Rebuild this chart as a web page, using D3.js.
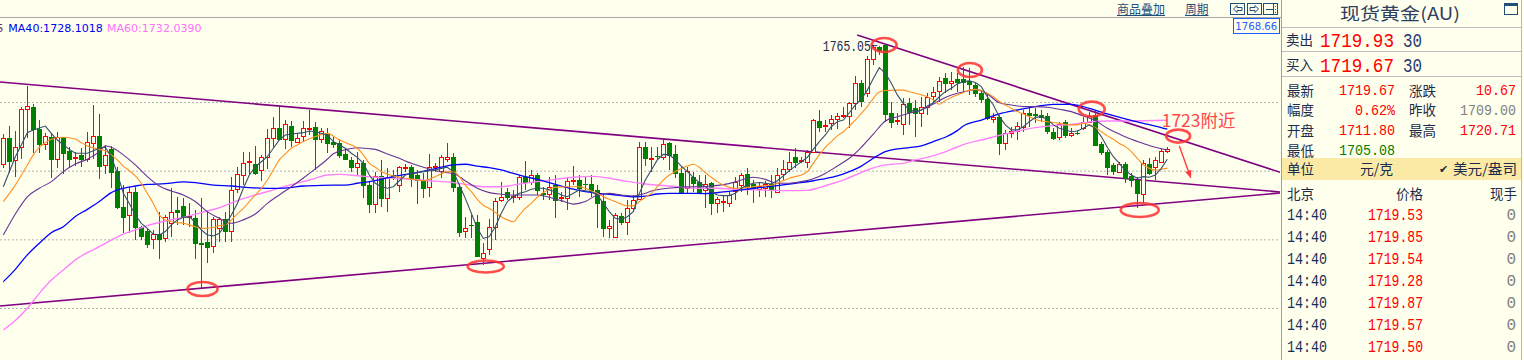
<!DOCTYPE html>
<html><head><meta charset="utf-8">
<script src="https://cdn.jsdelivr.net/npm/d3@7"></script>
<style>
html,body{margin:0;padding:0;background:#FFFFEE;overflow:hidden;}
svg{display:block;}
</style></head><body>
<svg id="c" width="1524" height="360"></svg>
<script>
// ---------------- DATA ----------------
const openP = [1712.9,1724.1,1714.7,1720.2,1736.8,1737.7,1728.2,1721.5,1724.6,1715.2,1724.6,1718.7,1715.7,1716.9,1715.2,1722.2,1725.2,1712.3,1719.3,1709.9,
1694.3,1690.8,1700.7,1685.5,1683.5,1680.0,1682.3,1680.4,1687.3,1692.8,1694.6,1689.6,1689.5,1678.3,1678.7,1677.1,1684.8,1688.7,1683.8,1701.9,
1708.1,1713.8,1712.8,1710.3,1716.1,1724.4,1728.5,1723.7,1729.5,1722.7,1725.2,1728.4,1729.1,1724.0,1726.0,1722.7,1721.9,1717.3,1714.7,1711.5,
1713.2,1703.7,1695.3,1707.7,1697.9,1708.1,1703.7,1711.3,1711.5,1708.1,1705.9,1703.0,1711.6,1709.9,1715.0,1715.8,1703.0,1683.8,1686.3,1687.6,
1671.7,1675.6,1685.5,1697.2,1700.5,1698.6,1698.6,1707.4,1705.2,1708.1,1700.1,1699.7,1703.6,1698.1,1697.9,1705.5,1705.9,1704.2,1704.2,1701.6,
1696.8,1684.8,1681.2,1690.2,1687.7,1693.5,1697.5,1720.2,1715.2,1716.6,1715.8,1721.9,1717.1,1709.1,1702.3,1707.4,1705.1,1701.6,1704.5,1696.0,
1696.3,1696.0,1701.1,1703.6,1708.4,1704.2,1701.9,1702.6,1704.2,1700.7,1708.4,1710.9,1715.8,1714.5,1713.9,1718.3,1731.6,1729.5,1730.7,1732.4,
1734.2,1733.9,1739.4,1748.2,1744.1,1758.6,1764.2,1764.9,1735.1,1731.7,1730.2,1739.7,1737.2,1735.1,1738.0,1742.6,1745.0,1750.3,1748.2,1750.1,
1750.1,1749.2,1747.4,1744.1,1741.2,1732.4,1733.3,1722.2,1726.3,1727.3,1728.9,1735.1,1734.6,1734.3,1733.9,1727.0,1724.9,1731.1,1725.4,1726.6,
1728.5,1731.4,1734.3,1721.7,1718.3,1712.5,1709.6,1712.9,1707.7,1705.9,1699.7,1712.9,1711.8,1713.9,1718.6];
const highP = [1726.0,1729.5,1727.5,1738.0,1747.0,1739.1,1732.1,1726.3,1726.6,1727.0,1724.9,1720.5,1718.3,1719.8,1727.0,1738.7,1734.8,1721.1,1720.8,1711.8,
1703.7,1703.0,1703.0,1686.0,1684.8,1684.1,1692.1,1690.6,1702.3,1698.6,1697.9,1695.7,1692.8,1697.9,1692.1,1689.9,1689.9,1692.1,1707.4,1711.8,
1718.3,1718.3,1720.8,1716.9,1728.1,1733.6,1738.7,1732.1,1731.7,1726.6,1731.7,1736.5,1731.4,1728.5,1728.5,1724.9,1723.7,1719.3,1716.1,1718.3,
1714.7,1705.2,1709.6,1714.7,1711.0,1710.3,1712.0,1712.9,1712.5,1710.3,1708.8,1717.1,1713.2,1716.9,1721.9,1717.6,1704.5,1689.9,1690.6,1690.6,
1678.3,1688.7,1697.9,1705.2,1702.3,1701.6,1708.1,1714.4,1710.3,1708.8,1703.0,1707.4,1708.1,1700.8,1707.4,1712.0,1708.1,1707.4,1708.1,1703.7,
1700.1,1688.5,1691.4,1691.4,1697.2,1699.4,1722.7,1722.7,1720.5,1720.2,1723.4,1722.7,1721.2,1712.0,1711.8,1709.6,1708.1,1708.1,1705.2,1698.6,
1699.4,1700.8,1707.4,1708.8,1711.0,1705.9,1705.2,1705.6,1708.1,1711.0,1714.7,1718.3,1719.8,1716.1,1719.0,1732.4,1736.5,1732.1,1734.3,1735.3,
1738.0,1740.2,1751.4,1749.6,1760.1,1764.8,1764.6,1765.05,1740.2,1735.1,1741.6,1741.6,1740.9,1742.3,1743.8,1746.7,1750.8,1752.5,1753.3,1752.5,
1755.3,1754.7,1748.2,1745.2,1743.8,1735.1,1734.3,1727.8,1729.2,1731.4,1736.5,1738.0,1737.2,1736.5,1735.1,1728.5,1731.4,1732.1,1728.5,1727.8,
1733.6,1735.8,1736.5,1722.7,1719.0,1713.2,1713.9,1713.9,1708.8,1707.4,1714.7,1715.4,1716.1,1719.8,1720.2];
const lowP = [1711.0,1708.8,1707.1,1715.1,1724.1,1717.6,1717.9,1719.0,1706.7,1711.0,1708.6,1711.5,1712.0,1711.8,1713.9,1715.0,1706.2,1708.6,1702.3,1693.1,
1682.6,1682.6,1679.7,1679.7,1676.1,1675.6,1671.3,1679.0,1681.2,1686.3,1686.3,1685.5,1671.3,1658.6,1669.5,1673.9,1679.0,1679.0,1679.0,1700.1,
1703.7,1708.1,1708.1,1705.6,1710.6,1719.8,1723.4,1719.3,1720.2,1721.9,1722.7,1725.6,1710.3,1721.9,1717.9,1719.8,1715.4,1714.7,1709.6,1708.1,
1697.9,1691.4,1691.7,1694.3,1691.8,1705.9,1700.8,1709.6,1703.0,1695.3,1697.9,1698.6,1709.6,1706.7,1713.9,1700.8,1681.2,1680.4,1680.4,1672.4,
1668.8,1673.2,1679.7,1696.5,1697.2,1695.7,1697.2,1701.6,1703.7,1699.4,1697.2,1697.2,1689.2,1696.5,1692.8,1703.7,1698.6,1701.6,1698.6,1684.8,
1681.2,1680.4,1680.5,1686.3,1681.9,1692.8,1697.2,1712.0,1709.6,1714.7,1714.7,1710.3,1706.7,1700.1,1700.1,1700.8,1700.4,1693.5,1690.6,1691.4,
1692.1,1694.3,1697.2,1700.8,1699.4,1695.7,1698.6,1698.4,1697.9,1700.1,1705.9,1709.6,1711.0,1713.2,1711.0,1717.6,1727.0,1727.0,1727.8,1728.1,
1732.9,1728.5,1736.5,1738.0,1742.3,1756.2,1760.5,1731.4,1728.5,1729.9,1725.6,1729.9,1724.6,1729.2,1734.3,1739.4,1740.2,1743.8,1745.2,1744.5,
1743.8,1743.1,1742.3,1739.4,1732.1,1730.7,1716.9,1719.0,1724.1,1723.4,1727.0,1729.2,1730.7,1731.4,1726.0,1723.4,1723.4,1724.1,1724.9,1725.6,
1727.8,1730.7,1720.8,1716.9,1708.1,1708.1,1708.8,1704.5,1703.0,1693.5,1695.7,1708.1,1705.9,1713.2,1717.6];
const closeP = [1724.1,1714.4,1720.2,1736.8,1738.4,1728.2,1721.5,1725.0,1715.2,1724.9,1717.9,1715.2,1716.0,1715.2,1722.4,1725.0,1712.2,1716.7,1709.6,1694.3,
1689.6,1700.7,1685.5,1681.6,1677.8,1682.3,1680.3,1689.6,1692.1,1692.1,1689.9,1690.2,1678.3,1677.8,1676.8,1688.7,1689.0,1683.8,1701.6,1708.4,
1713.2,1714.1,1709.1,1715.8,1724.1,1728.5,1723.7,1730.2,1723.4,1724.1,1728.5,1728.6,1723.7,1727.3,1722.2,1721.5,1716.9,1715.1,1711.5,1713.2,
1703.7,1695.3,1707.7,1697.9,1707.4,1707.1,1711.5,1711.5,1706.7,1705.9,1702.6,1711.8,1711.9,1715.8,1715.8,1703.0,1683.4,1684.8,1686.1,1672.9,
1674.2,1685.2,1696.9,1698.4,1698.4,1698.8,1707.4,1705.2,1708.1,1701.6,1700.0,1703.0,1697.2,1698.4,1705.3,1705.8,1702.3,1704.0,1701.6,1696.0,
1685.1,1685.8,1690.6,1687.7,1693.5,1697.2,1720.2,1715.4,1715.4,1716.4,1721.5,1716.9,1708.8,1700.4,1709.9,1704.5,1700.8,1704.0,1696.0,1697.5,
1696.6,1699.4,1705.1,1708.0,1703.3,1702.3,1703.3,1704.0,1701.6,1708.0,1710.6,1713.6,1713.9,1714.8,1718.2,1732.1,1729.2,1729.8,1732.4,1733.9,
1734.5,1739.4,1748.2,1740.4,1758.6,1764.2,1762.7,1734.6,1731.4,1732.0,1739.0,1735.5,1735.1,1738.0,1742.3,1744.5,1749.3,1748.2,1749.2,1748.9,
1748.9,1747.7,1743.8,1741.2,1732.9,1733.3,1722.2,1726.3,1727.3,1729.5,1735.1,1734.3,1734.2,1733.6,1727.5,1724.4,1730.2,1725.6,1726.3,1726.5,
1731.4,1733.9,1721.2,1718.3,1711.8,1710.0,1712.8,1706.7,1705.9,1700.1,1713.2,1708.8,1714.7,1718.6,1719.67];

// moving-average readings: [candle index, price]
const ma5Pts = [[0,1703.0],[2,1716.1],[3,1721.2],[4,1726.6],[5,1727.8],[7,1729.5],[8,1726.3],[9,1723.4],[11,1719.3],[12,1717.6],[14,1717.6],[15,1718.7],[16,1719.8],[17,1720.2],[18,1716.1],[19,1708.8],[20,1700.1],[21,1695.7],[22,1690.6],[23,1687.0],[24,1684.8],[25,1682.3],[26,1681.9],[27,1683.4],[28,1686.3],[29,1688.5],[30,1689.6],[31,1689.9],[32,1687.3],[33,1684.1],[34,1681.9],[35,1681.5],[36,1682.6],[37,1686.3],[38,1690.6],[39,1695.7],[40,1702.3],[41,1708.1],[42,1711.8],[43,1713.9],[44,1716.1],[45,1719.8],[46,1723.4],[47,1725.6],[48,1726.0],[50,1726.6],[51,1727.3],[52,1727.0],[54,1725.6],[55,1722.7],[56,1721.2],[57,1719.8],[58,1717.6],[59,1715.8],[60,1713.2],[61,1708.1],[62,1704.5],[63,1703.0],[64,1702.3],[65,1703.0],[66,1705.6],[67,1708.1],[68,1708.8],[70,1709.6],[72,1710.3],[73,1711.0],[74,1711.5],[75,1709.6],[76,1703.7],[77,1697.9],[78,1691.4],[79,1684.8],[80,1680.4],[81,1681.2],[82,1685.5],[83,1691.4],[84,1696.5],[85,1698.6],[86,1700.1],[87,1700.8],[88,1701.9],[89,1702.3],[90,1702.3],[92,1700.8],[93,1699.4],[94,1698.6],[95,1700.1],[96,1701.6],[98,1700.8],[99,1699.4],[100,1695.7],[101,1692.1],[102,1689.2],[103,1688.7],[104,1689.9],[105,1692.1],[106,1700.1],[107,1705.9],[108,1710.3],[109,1714.7],[110,1717.1],[111,1716.9],[112,1714.7],[113,1712.0],[114,1709.6],[115,1707.1],[116,1704.8],[117,1703.0],[118,1700.8],[119,1699.4],[120,1699.1],[121,1699.1],[122,1700.1],[123,1702.3],[124,1703.7],[125,1704.5],[126,1704.8],[127,1704.5],[128,1704.2],[129,1705.6],[130,1707.7],[131,1710.0],[132,1712.0],[133,1713.9],[134,1715.8],[135,1719.3],[136,1722.7],[137,1725.6],[138,1729.2],[139,1731.4],[140,1732.1],[141,1735.3],[142,1738.7],[143,1741.2],[144,1745.2],[145,1750.3],[146,1755.0],[147,1752.5],[148,1748.2],[149,1743.1],[150,1739.4],[151,1736.5],[152,1735.8],[153,1736.5],[154,1738.3],[155,1739.7],[156,1742.3],[157,1744.5],[158,1746.0],[159,1747.9],[160,1748.9],[161,1749.3],[162,1748.5],[163,1746.7],[164,1742.3],[165,1738.7],[166,1733.6],[167,1730.0],[168,1727.8],[169,1727.8],[170,1729.2],[171,1731.4],[172,1733.3],[173,1733.6],[174,1732.4],[175,1730.0],[176,1728.5],[177,1727.8],[178,1727.0],[179,1727.3],[180,1728.5],[181,1730.0],[182,1728.5],[183,1724.9],[184,1720.2],[185,1716.1],[186,1713.2],[187,1710.0],[188,1708.1],[189,1706.7],[190,1707.4],[191,1707.1],[192,1708.1],[193,1711.0],[194,1715.0]];
const ma10Pts = [[0,1696.5],[2,1703.7],[4,1712.5],[5,1716.9],[6,1720.2],[7,1722.2],[8,1723.7],[10,1724.6],[12,1723.8],[13,1722.2],[14,1720.8],[16,1719.3],[17,1718.7],[18,1716.9],[19,1714.7],[20,1712.0],[21,1710.0],[22,1707.7],[23,1704.5],[24,1700.1],[25,1695.7],[26,1690.6],[27,1688.5],[28,1687.7],[30,1687.0],[32,1685.5],[33,1684.8],[35,1685.2],[36,1686.0],[37,1686.3],[38,1688.5],[39,1691.1],[40,1693.5],[41,1696.5],[42,1699.4],[43,1702.3],[44,1705.9],[45,1710.3],[46,1714.7],[47,1717.3],[48,1719.8],[49,1721.2],[50,1722.7],[52,1724.9],[54,1726.3],[56,1723.4],[58,1721.2],[59,1719.8],[60,1716.9],[61,1713.2],[62,1711.5],[63,1709.6],[65,1707.7],[67,1706.7],[69,1705.9],[70,1705.6],[71,1706.2],[72,1707.4],[73,1708.6],[74,1709.6],[75,1709.6],[76,1707.4],[77,1703.7],[78,1700.8],[79,1697.5],[80,1694.9],[81,1693.5],[82,1691.7],[83,1689.9],[84,1688.5],[85,1687.7],[86,1690.6],[87,1693.5],[88,1695.7],[89,1698.4],[90,1700.4],[91,1701.9],[92,1702.7],[94,1703.0],[96,1703.0],[97,1702.3],[98,1701.1],[99,1700.1],[100,1698.6],[101,1697.5],[102,1696.5],[103,1695.4],[104,1694.6],[105,1694.6],[106,1696.5],[107,1698.4],[108,1700.1],[109,1703.0],[110,1705.9],[111,1708.1],[112,1709.6],[113,1711.0],[114,1712.0],[115,1712.8],[116,1711.5],[117,1709.1],[118,1707.1],[119,1705.2],[120,1703.7],[121,1702.7],[122,1702.3],[124,1702.7],[126,1703.3],[128,1703.6],[129,1704.5],[130,1705.6],[131,1706.7],[132,1707.4],[133,1708.1],[134,1709.6],[135,1713.2],[136,1716.9],[137,1720.2],[138,1722.7],[139,1725.2],[140,1727.0],[141,1729.5],[142,1732.1],[143,1735.1],[144,1738.0],[145,1741.6],[146,1744.4],[147,1745.0],[149,1745.2],[150,1745.2],[151,1744.5],[152,1743.8],[153,1743.1],[154,1742.3],[155,1740.9],[156,1739.0],[157,1740.6],[158,1742.0],[159,1743.1],[160,1744.1],[161,1745.2],[162,1745.5],[163,1745.0],[164,1743.8],[165,1742.3],[166,1740.2],[167,1738.7],[168,1737.2],[169,1735.8],[170,1734.8],[171,1733.6],[172,1732.4],[174,1731.4],[176,1730.7],[178,1730.0],[179,1730.0],[180,1730.7],[181,1730.0],[182,1728.8],[183,1727.0],[184,1725.2],[185,1723.7],[186,1721.9],[187,1720.5],[188,1718.3],[189,1715.4],[190,1712.5],[191,1711.0],[192,1710.3],[193,1710.6],[194,1711.1]];
const ma20Pts = [[0,1681.9],[2,1691.1],[4,1698.6],[6,1702.3],[8,1705.2],[10,1709.6],[12,1712.9],[14,1715.0],[16,1718.3],[17,1720.8],[18,1720.2],[20,1716.9],[22,1712.5],[24,1707.4],[26,1703.3],[28,1701.1],[30,1699.4],[32,1696.5],[34,1692.1],[36,1689.2],[38,1687.0],[40,1688.5],[42,1691.1],[44,1695.7],[46,1699.4],[48,1703.0],[50,1706.8],[52,1710.8],[54,1715.0],[55,1717.4],[57,1719.1],[59,1720.0],[61,1719.6],[62,1719.3],[64,1717.3],[66,1715.4],[68,1713.2],[70,1711.5],[72,1710.0],[74,1709.1],[75,1708.8],[77,1705.6],[79,1702.3],[81,1700.4],[83,1699.7],[85,1699.4],[87,1699.4],[89,1699.4],[91,1698.4],[93,1696.9],[95,1695.4],[97,1696.5],[99,1699.4],[101,1700.1],[103,1699.4],[105,1698.9],[107,1700.1],[108,1701.1],[110,1702.1],[112,1702.6],[114,1702.9],[116,1703.0],[118,1703.3],[120,1703.9],[122,1705.1],[124,1706.7],[125,1707.1],[127,1706.2],[129,1704.5],[131,1704.5],[133,1705.2],[135,1706.5],[137,1708.8],[139,1712.0],[141,1715.4],[143,1720.2],[145,1726.0],[147,1731.7],[149,1733.6],[151,1735.1],[153,1736.5],[155,1739.1],[157,1742.0],[159,1743.8],[161,1745.0],[162,1745.5],[164,1743.5],[166,1739.7],[168,1738.7],[170,1738.0],[172,1738.0],[174,1737.7],[176,1736.8],[178,1735.8],[180,1733.9],[182,1731.9],[184,1728.5],[186,1726.0],[188,1723.7],[190,1721.9],[192,1720.2],[194,1719.0]];
const ma40Pts = [[0,1661.5],[2,1666.9],[4,1673.2],[6,1678.3],[8,1682.9],[10,1685.5],[12,1690.0],[14,1693.1],[16,1696.5],[18,1700.4],[20,1702.3],[22,1703.3],[24,1704.0],[27,1704.3],[30,1705.1],[32,1704.8],[35,1703.7],[38,1703.3],[41,1702.6],[44,1702.3],[47,1702.4],[50,1703.3],[53,1703.6],[57,1703.7],[59,1704.5],[61,1705.2],[63,1706.2],[65,1707.4],[67,1708.4],[69,1709.1],[71,1710.3],[73,1711.5],[75,1712.5],[77,1712.8],[79,1712.0],[81,1711.3],[83,1710.3],[85,1708.8],[87,1707.4],[89,1706.2],[91,1704.8],[93,1703.3],[95,1701.9],[97,1700.8],[99,1700.1],[101,1699.7],[103,1699.1],[105,1698.6],[107,1698.9],[109,1699.8],[111,1700.1],[114,1700.1],[117,1700.0],[120,1700.7],[123,1701.6],[126,1702.6],[129,1703.5],[132,1704.5],[135,1705.6],[137,1706.5],[139,1707.7],[141,1709.6],[143,1712.0],[145,1715.4],[147,1718.3],[149,1719.5],[151,1720.1],[153,1720.8],[155,1722.7],[157,1724.6],[159,1727.5],[160,1729.5],[163,1732.1],[166,1734.8],[169,1736.5],[172,1738.0],[175,1739.0],[178,1739.0],[181,1737.2],[184,1734.8],[187,1732.6],[190,1730.7],[192,1729.5],[194,1728.1]];
const ma60Pts = [[0,1640.4],[2,1644.5],[4,1649.9],[6,1656.4],[8,1662.2],[10,1666.6],[12,1671.0],[14,1674.2],[16,1676.8],[18,1679.7],[20,1682.3],[22,1684.1],[24,1686.0],[27,1688.0],[30,1689.6],[33,1691.7],[36,1693.8],[39,1696.9],[42,1699.4],[45,1701.6],[48,1703.9],[51,1705.9],[54,1708.1],[56,1708.4],[59,1707.8],[62,1707.1],[65,1706.7],[68,1706.2],[71,1705.6],[74,1705.1],[77,1704.0],[80,1703.0],[83,1703.0],[86,1704.2],[89,1705.2],[92,1706.2],[95,1707.1],[98,1707.5],[101,1706.7],[104,1705.3],[107,1704.2],[110,1703.5],[113,1702.7],[116,1702.3],[119,1702.3],[122,1701.9],[125,1701.6],[128,1701.4],[131,1701.3],[134,1701.4],[136,1702.6],[138,1704.2],[140,1705.9],[142,1708.1],[144,1710.3],[146,1712.0],[148,1712.8],[150,1713.2],[152,1714.7],[154,1715.8],[156,1717.3],[158,1719.3],[160,1721.4],[163,1723.4],[166,1725.4],[169,1727.3],[172,1728.8],[175,1729.7],[178,1730.2],[181,1731.3],[184,1731.7],[187,1731.7],[190,1731.8],[194,1732.04]];

const gridPrices = [1650, 1680, 1710, 1740];
const legendItems = [["MA40", "1728.1018"], ["MA60", "1732.0390"]];
const peakLabel = "1765.05";
const axisTopLabel = "1768.66";

// drawn trend lines: [[index, price], [index, price]]
const trendLines = [
  [[-0.56, 1748.74], [212.8, 1700.68]],
  [[-0.56, 1650.87], [212.8, 1700.24]],
  [[142.3, 1769.27], [212.8, 1709.29]]
];
// red circle marks: [index, price]
const circleMarks = [[33.2,1658.3],[80.4,1668.1],[146.8,1764.9],[161.1,1754.0],[181.4,1736.9],[195.8,1725.1],[189.4,1692.8]];
const arrowMark = [[196.0,1720.8],[197.95,1706.6]];
const noteText = "1723附近";
const notePos = [193.06, 1729.2];

// right-hand quote panel
const panelTitle = "现货黄金(AU)";
const bidAsk = [["卖出", "1719.93", "30"], ["买入", "1719.67", "30"]];
const quoteRows = [
  ["最新", "1719.67", "涨跌", "10.67"],
  ["幅度", "0.62%", "昨收", "1709.00"],
  ["开盘", "1711.80", "最高", "1720.71"],
  ["最低", "1705.08", "", ""]
];
const unitRow = ["单位", "元/克", "美元/盎司"];
const tickHeader = ["北京", "价格", "现手"];
const tickTimes = ["14:40","14:40","14:40","14:40","14:40","14:40","14:40"];
const tickPrices = ["1719.53","1719.85","1719.54","1719.28","1719.87","1719.57","1719.50"];
const tickVols = ["0","0","0","0","0","0","0"];
const topLinks = ["商品叠加", "周期"];

// ---------------- DRAW ----------------
const BG = "#FFFFEE";
const CJK = "'Noto Sans CJK SC','Noto Sans CJK JP',sans-serif";
const MONO = "'Liberation Mono','DejaVu Sans Mono',monospace";
const LAT = "'DejaVu Sans',Verdana,sans-serif";
const svg = d3.select("#c");
svg.append("rect").attr("width", 1524).attr("height", 360).attr("fill", BG);

const N = closeP.length;
const x = d3.scaleLinear().domain([0, N - 1]).range([3.33, 1167.33]);
const y = d3.scaleLinear().domain([1650, 1740]).range([308, 102]);

const defs = svg.append("defs");
defs.append("clipPath").attr("id", "plot").append("rect")
  .attr("x", 0).attr("y", 18).attr("width", 1280).attr("height", 342);

const g = svg.append("g").attr("clip-path", "url(#plot)");

// grid via axis
const gridG = g.append("g").call(d3.axisLeft(y).tickValues(gridPrices).tickSize(-1280).tickFormat(""));
gridG.select(".domain").remove();
gridG.selectAll(".tick line").attr("stroke", "#B4B4B4").attr("stroke-dasharray", "2,2");

// trend lines
g.selectAll("line.trend").data(trendLines).join("line")
  .attr("x1", d => x(d[0][0])).attr("y1", d => y(d[0][1]))
  .attr("x2", d => x(d[1][0])).attr("y2", d => y(d[1][1]))
  .attr("stroke", "#800080").attr("stroke-width", 1.6);

// candles
const cand = d3.range(N).map(i => ({ i, o: openP[i], h: highP[i], l: lowP[i], c: closeP[i], up: closeP[i] >= openP[i] }));
const cg = g.append("g").attr("shape-rendering", "crispEdges");
const RED = "#FF0000", GREEN = "#008000";
cand.forEach(d => {
  const cx = Math.round(x(d.i));
  const col = d.up ? RED : GREEN;
  const yt = Math.round(y(Math.max(d.o, d.c)));
  const yb = Math.round(y(Math.min(d.o, d.c)));
  const yh = y(d.h), yl = y(d.l);
  if (d.up) {
    cg.append("line").attr("x1", cx + 0.5).attr("x2", cx + 0.5).attr("y1", yh).attr("y2", yt).attr("stroke", col);
    cg.append("line").attr("x1", cx + 0.5).attr("x2", cx + 0.5).attr("y1", yb).attr("y2", yl).attr("stroke", col);
    const hgt = Math.max(1, yb - yt);
    cg.append("rect").attr("x", cx - 1.5).attr("y", yt + 0.5).attr("width", 4).attr("height", hgt)
      .attr("fill", BG).attr("stroke", col).attr("stroke-width", 1);
  } else {
    cg.append("line").attr("x1", cx + 0.5).attr("x2", cx + 0.5).attr("y1", yh).attr("y2", yl).attr("stroke", col);
    cg.append("rect").attr("x", cx - 2).attr("y", yt).attr("width", 5).attr("height", Math.max(1, yb - yt + 1))
      .attr("fill", col);
  }
});

// moving averages
const maLine = (curve) => d3.line().x(d => x(d[0])).y(d => y(d[1])).curve(curve);
const maDefs = [
  [ma60Pts, "#FF80FF", 1.4, d3.curveMonotoneX],
  [ma40Pts, "#0000FF", 1.3, d3.curveMonotoneX],
  [ma20Pts, "#663399", 1.1, d3.curveMonotoneX],
  [ma10Pts, "#FF9020", 1.1, d3.curveMonotoneX],
  [ma5Pts, "#34506E", 1.1, d3.curveLinear]
];
maDefs.forEach(([pts, col, w, cv]) => {
  g.append("path").attr("d", maLine(cv)(pts)).attr("fill", "none").attr("stroke", col).attr("stroke-width", w);
});

// red circle marks
const circleSize = [[15,7],[18,6],[12.5,7],[12,7],[13,7.5],[12,6.5],[19,7]];
g.selectAll("ellipse.mark").data(circleMarks).join("ellipse")
  .attr("cx", d => x(d[0])).attr("cy", d => y(d[1]))
  .attr("rx", (d, k) => circleSize[k][0]).attr("ry", (d, k) => circleSize[k][1])
  .attr("fill", "none").attr("stroke", "#FF3030").attr("stroke-opacity", 0.85).attr("stroke-width", 2.6);

// arrow
{
  const x1 = x(arrowMark[0][0]), y1 = y(arrowMark[0][1]);
  const x2 = x(arrowMark[1][0]), y2 = y(arrowMark[1][1]);
  const ang = Math.atan2(y2 - y1, x2 - x1);
  const L = 8, Wd = 3.2;
  const bx = x2 - L * Math.cos(ang), by = y2 - L * Math.sin(ang);
  g.append("line").attr("x1", x1).attr("y1", y1).attr("x2", bx).attr("y2", by)
    .attr("stroke", "#FF3A3A").attr("stroke-width", 1.4);
  const px = -Math.sin(ang) * Wd, py = Math.cos(ang) * Wd;
  g.append("path").attr("d", `M${x2},${y2}L${bx + px},${by + py}L${bx - px},${by - py}Z`).attr("fill", "#FF3A3A");
}

// note text
g.append("text").attr("x", x(notePos[0])).attr("y", y(notePos[1]))
  .attr("font-family", CJK).attr("font-size", 17.5).attr("fill", "#FF4848").text(noteText);

// peak label
{
  const pk = d3.maxIndex(highP);
  const px = x(pk), py = y(highP[pk]);
  g.append("text").attr("x", px - 62.5).attr("y", py + 6.3).attr("font-family", MONO).attr("font-size", 14)
    .attr("textLength", 48).attr("lengthAdjust", "spacingAndGlyphs").attr("fill", "#1A2A4A").text(peakLabel);
  g.append("line").attr("x1", px - 13.5).attr("x2", px - 8).attr("y1", py + 1).attr("y2", py + 1)
    .attr("stroke", "#1A2A4A").attr("stroke-width", 1);
}

// legend (the first entries run off the left edge, as in the source)
{
  const lg = svg.append("g").attr("font-family", LAT).attr("font-size", 11);
  lg.append("text").attr("x", -3.6).attr("y", 32).attr("fill", "#6A1F6A").text("5");
  const cols = ["#0000F0", "#FF70FF"];
  const xs = [8.3, 107];
  legendItems.forEach((it, k) => {
    lg.append("text").attr("x", xs[k]).attr("y", 32).attr("fill", cols[k])
      .attr("textLength", 94.5).attr("lengthAdjust", "spacingAndGlyphs").text(it[0] + ":" + it[1]);
  });
}

// top bar
svg.append("line").attr("x1", 0).attr("x2", 1281).attr("y1", 17.5).attr("y2", 17.5).attr("stroke", "#A8A8A8");
{
  const linkX = [1117, 1185], linkW = [48, 23.5];
  topLinks.forEach((t, k) => {
    svg.append("text").attr("x", linkX[k]).attr("y", 13.5).attr("font-family", CJK).attr("font-size", 12.5)
      .attr("textLength", linkW[k]).attr("lengthAdjust", "spacingAndGlyphs").attr("fill", "#1F4E79").text(t);
    svg.append("line").attr("x1", linkX[k]).attr("x2", linkX[k] + linkW[k]).attr("y1", 15.5).attr("y2", 15.5)
      .attr("stroke", "#1F4E79").attr("stroke-width", 1);
  });
  const bx = [1230.5, 1247, 1263.5];
  const ic = svg.append("g").attr("stroke", "#1F4E79").attr("fill", "none").attr("shape-rendering", "crispEdges");
  bx.forEach(b => ic.append("rect").attr("x", b).attr("y", 3.5).attr("width", 14).attr("height", 11));
  ic.append("path").attr("d", "M1233.5,9L1237,5.5V7.5H1242V10.5H1237V12.5Z").attr("shape-rendering", "auto");
  ic.append("path").attr("d", "M1258.5,9L1255,5.5V7.5H1250V10.5H1255V12.5Z").attr("shape-rendering", "auto");
  ic.append("path").attr("d", "M1265.5,9H1272.5M1273.5,4V14");
  ic.append("path").attr("d", "M1275.5,5.5V6.5M1275.5,8.5V9.5M1275.5,11.5V12.5");
}

// axis top price box
svg.append("rect").attr("x", 1233.5).attr("y", 18.5).attr("width", 45.5).attr("height", 15)
  .attr("fill", BG).attr("stroke", "#1E5AFF").attr("shape-rendering", "crispEdges");
svg.append("text").attr("x", 1235.3).attr("y", 30.3).attr("font-family", LAT).attr("font-size", 11)
  .attr("textLength", 42).attr("lengthAdjust", "spacingAndGlyphs").attr("fill", "#2A5CFF").text(axisTopLabel);

// ---------------- PANEL ----------------
const P = svg.append("g");
const NAVY = "#1C2B4A";
P.append("line").attr("x1", 1281.5).attr("x2", 1281.5).attr("y1", 0).attr("y2", 360).attr("stroke", "#A0A0A0");
P.append("line").attr("x1", 1521.5).attr("x2", 1521.5).attr("y1", 0).attr("y2", 360).attr("stroke", "#B8B8B8");
P.append("text").attr("x", 1340).attr("y", 19.5).attr("font-family", CJK).attr("font-size", 17)
  .attr("textLength", 120).attr("lengthAdjust", "spacingAndGlyphs").attr("fill", "#2F3F5F").text(panelTitle);
P.append("rect").attr("x", 1504.5).attr("y", 3.5).attr("width", 13).attr("height", 11).attr("fill", "none")
  .attr("stroke", "#1F4E79").attr("shape-rendering", "crispEdges");
P.append("rect").attr("x", 1505).attr("y", 4).attr("width", 12).attr("height", 2).attr("fill", "#1F4E79");

[27.5, 51.5, 76.5].forEach(yy => P.append("line").attr("x1", 1282).attr("x2", 1521).attr("y1", yy).attr("y2", yy).attr("stroke", "#BDBDBD"));

const txt = (xx, yy, s, o) => {
  const t = P.append("text").attr("x", xx).attr("y", yy).attr("font-family", o.font || CJK)
    .attr("font-size", o.size || 14).attr("fill", o.fill || NAVY).attr("text-anchor", o.anchor || "start").text(s);
  if (o.len) t.attr("textLength", o.len).attr("lengthAdjust", "spacingAndGlyphs");
  return t;
};

bidAsk.forEach((r, k) => {
  const by = 46.7 + k * 25;
  txt(1286, by - 2, r[0], { size: 14, len: 27 });
  txt(1320, by, r[1], { font: MONO, size: 20, len: 74, fill: "#FF0000" });
  txt(1403, by, r[2], { font: MONO, size: 20, len: 19, fill: "#1F3A70" });
});

const rowC = [90, 109.5, 130, 150];
const v1Col = ["#FF0000", "#FF0000", "#FF0000", "#008000"];
const v2Col = ["#FF0000", "#808080", "#FF0000", "#FF0000"];
quoteRows.forEach((r, k) => {
  const c = rowC[k];
  txt(1287, c + 5.5, r[0], { size: 14, len: 27 });
  txt(1395, c + 5, r[1], { font: MONO, size: 15, fill: v1Col[k], anchor: "end", len: r[1].length * 8 });
  if (r[2]) txt(1409, c + 5.5, r[2], { size: 14, len: 27 });
  if (r[3]) txt(1516, c + 5, r[3], { font: MONO, size: 15, fill: v2Col[k], anchor: "end", len: r[3].length * 8 });
});

P.append("rect").attr("x", 1282).attr("y", 158).attr("width", 239).attr("height", 22).attr("fill", "#FBEAA6");
txt(1287, 173.5, unitRow[0], { size: 14, len: 27 });
txt(1360, 173.5, unitRow[1], { size: 14, len: 33 });
txt(1439, 173, "✔", { font: LAT, size: 11 });
txt(1453, 173.5, unitRow[2], { size: 14, len: 64 });

txt(1287, 198.5, tickHeader[0], { size: 14, len: 27 });
txt(1396, 198.5, tickHeader[1], { size: 14, len: 27 });
txt(1490, 198.5, tickHeader[2], { size: 14, len: 27 });

tickTimes.forEach((t, k) => {
  const c = 214 + k * 22;
  txt(1287, c + 5.5, t, { font: MONO, size: 17, len: 40, fill: "#1B2D55" });
  txt(1423, c + 5.5, tickPrices[k], { font: MONO, size: 16, len: 55, anchor: "end", fill: "#FF0000" });
  txt(1516, c + 5.5, tickVols[k], { font: MONO, size: 16, anchor: "end", fill: "#808080" });
});
</script>
</body></html>
